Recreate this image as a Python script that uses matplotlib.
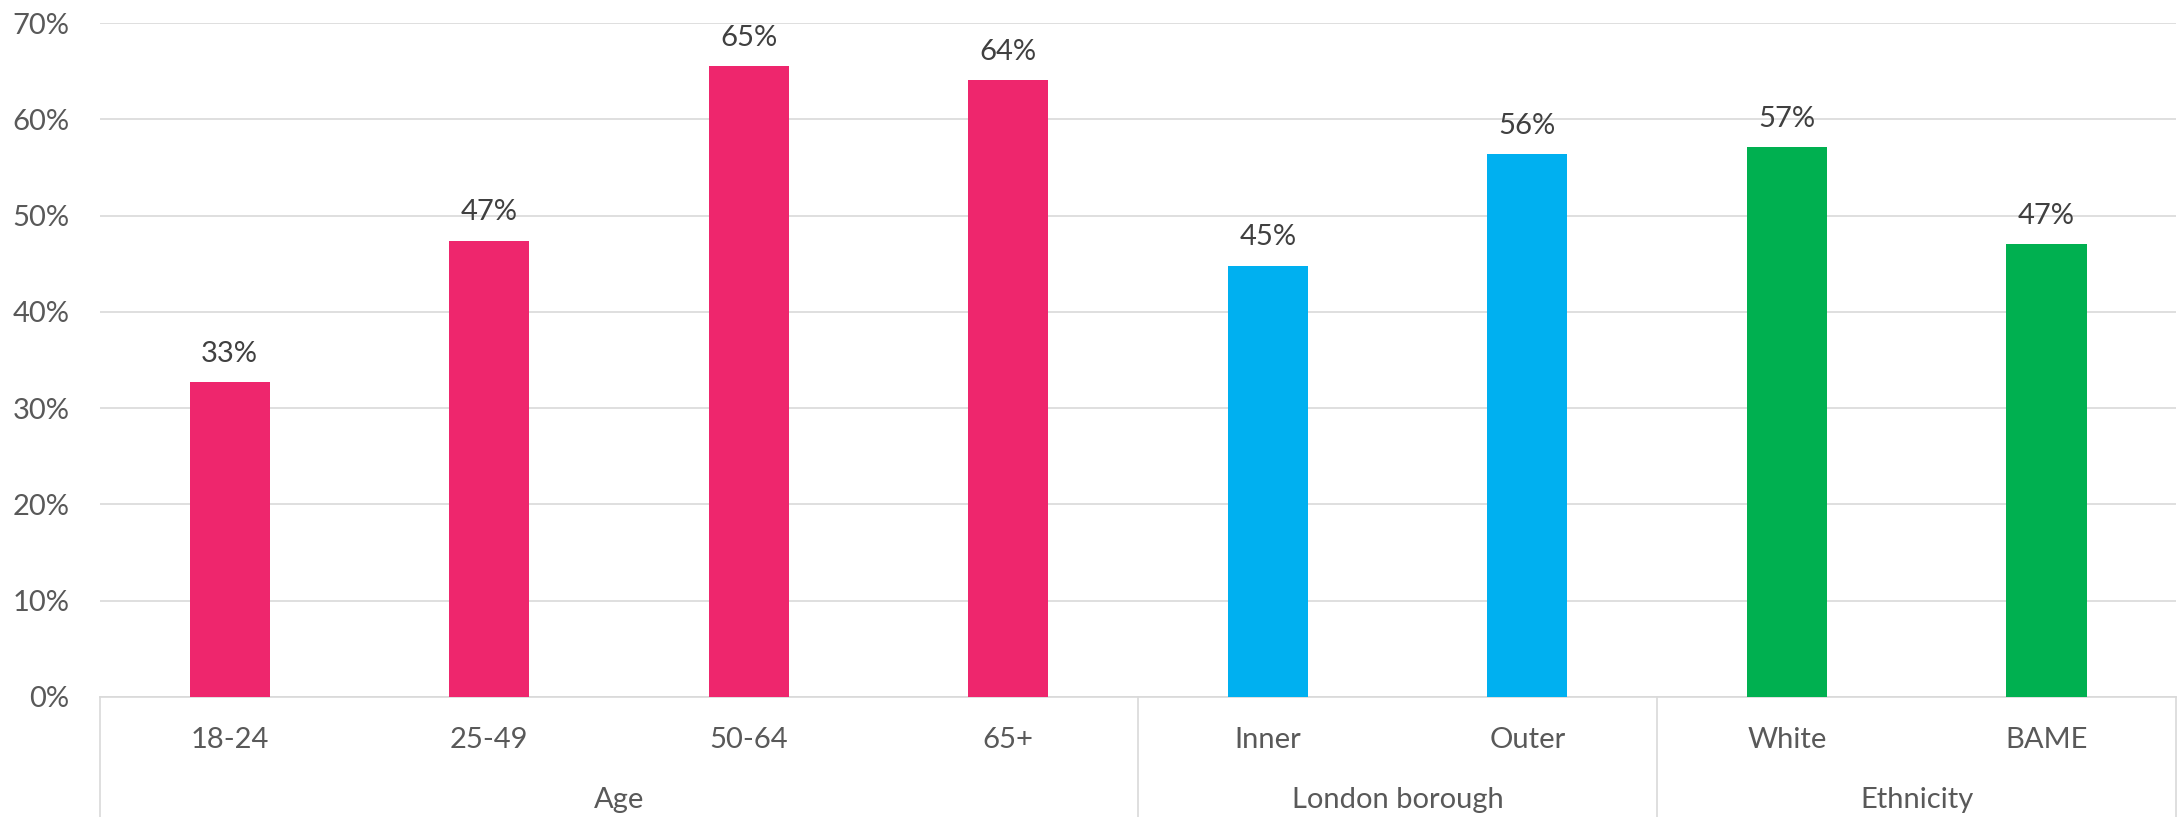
import matplotlib.pyplot as plt
import matplotlib.transforms as mtransforms

plt.rcParams['font.family'] = ['Lato', 'DejaVu Sans']

# data
labels = ['18-24', '25-49', '50-64', '65+', 'Inner', 'Outer', 'White', 'BAME']
values = [32.7, 47.4, 65.5, 64.1, 44.8, 56.4, 57.1, 47.0]
shown = ['33%', '47%', '65%', '64%', '45%', '56%', '57%', '47%']
groups = ['Age', 'London borough', 'Ethnicity']
group_sizes = [4, 2, 2]
group_colors = ['#EE266D', '#00B0F0', '#00B050']

colors = []
for c, n in zip(group_colors, group_sizes):
    colors += [c] * n

fig = plt.figure(figsize=(21.78, 8.17), dpi=100)
ax = fig.add_axes([0.0459, 0.1469, 0.9532, 0.8249])

x = list(range(len(labels)))
bars = ax.bar(x, values, width=0.31, color=colors, zorder=3)

for xi, v, s in zip(x, values, shown):
    ax.annotate(s, (xi, v), xytext=(0, 11), textcoords='offset points',
                ha='center', va='bottom', fontsize=21, color='#404040')

ax.set_xlim(-0.5, len(labels) - 0.5)
ax.set_ylim(0, 70)
ax.set_yticks(range(0, 71, 10))
ax.set_yticklabels([f'{t}%' for t in range(0, 71, 10)])
ax.tick_params(axis='y', length=0, pad=22, labelsize=21, labelcolor='#595959')
ax.set_xticks([])
ax.grid(axis='y', color='#D9D9D9', lw=1.2, zorder=0)
for sp in ['left', 'right', 'top']:
    ax.spines[sp].set_visible(False)
ax.spines['bottom'].set_color('#D9D9D9')
ax.spines['bottom'].set_linewidth(1.2)

# multi-level category axis
trans = mtransforms.blended_transform_factory(ax.transData, fig.transFigure)
ybase = 0.1469
for xi, lab in zip(x, labels):
    ax.text(xi, 0.094, lab, transform=trans, ha='center', va='center',
            fontsize=21, color='#595959')

start = 0
bounds = [-0.5]
for g, n in zip(groups, group_sizes):
    mid = start + (n - 1) / 2
    ax.text(mid, 0.021, g, transform=trans, ha='center', va='center',
            fontsize=21, color='#595959')
    start += n
    bounds.append(start - 0.5)

for b in bounds:
    ax.plot([b, b], [0, ybase], transform=trans, color='#D9D9D9', lw=1.2,
            clip_on=False)

fig.savefig('out.png', dpi=100)
